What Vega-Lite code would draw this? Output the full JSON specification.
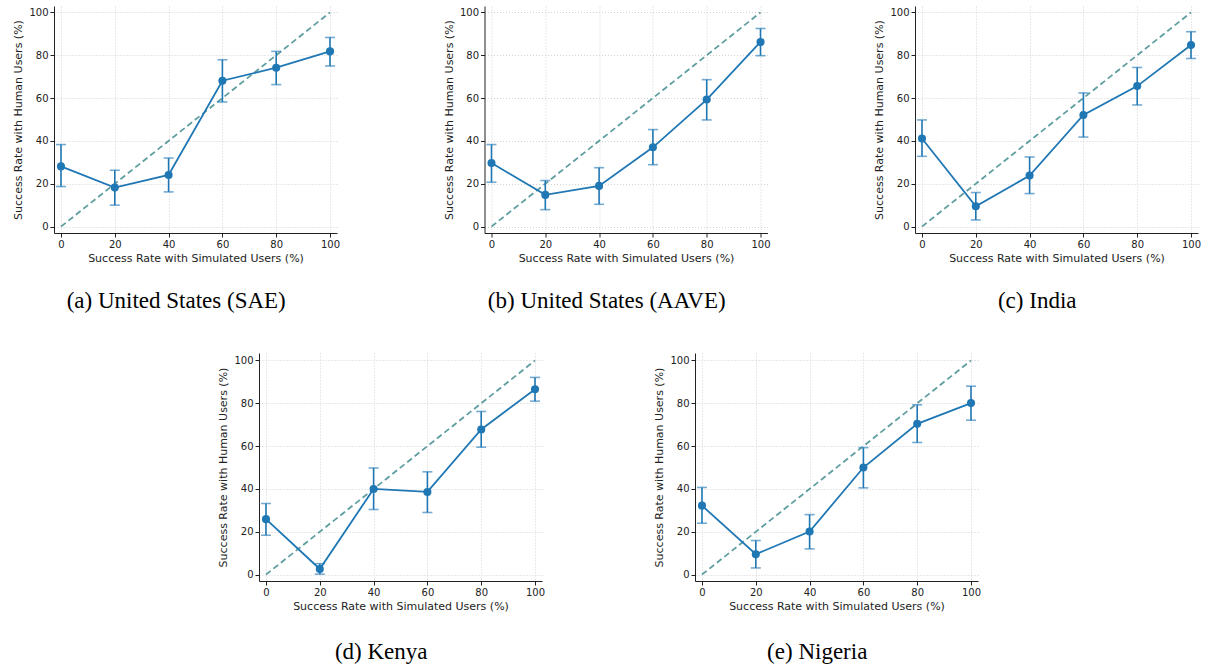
{
  "$schema": "https://vega.github.io/schema/vega-lite/v6.json",
  "padding": {"left": 12, "top": 6, "right": 5, "bottom": 5},
  "background": "white",
  "datasets": {
    "main": [
      {"panel": "a", "sim": 0, "human": 28.1, "lo": 18.7, "hi": 38.3},
      {"panel": "a", "sim": 20, "human": 18.2, "lo": 10.0, "hi": 26.3},
      {"panel": "a", "sim": 40, "human": 24.1, "lo": 16.2, "hi": 32.0},
      {"panel": "a", "sim": 60, "human": 68.1, "lo": 58.2, "hi": 77.9},
      {"panel": "a", "sim": 80, "human": 74.2, "lo": 66.3, "hi": 81.8},
      {"panel": "a", "sim": 100, "human": 81.8, "lo": 75.0, "hi": 88.3},
      {"panel": "b", "sim": 0, "human": 29.7, "lo": 20.7, "hi": 38.3},
      {"panel": "b", "sim": 20, "human": 14.8, "lo": 7.9, "hi": 21.5},
      {"panel": "b", "sim": 40, "human": 19.0, "lo": 10.4, "hi": 27.5},
      {"panel": "b", "sim": 60, "human": 37.0, "lo": 28.9, "hi": 45.3},
      {"panel": "b", "sim": 80, "human": 59.3, "lo": 49.8, "hi": 68.6},
      {"panel": "b", "sim": 100, "human": 86.2, "lo": 79.8, "hi": 92.5},
      {"panel": "c", "sim": 0, "human": 41.1, "lo": 32.8, "hi": 49.8},
      {"panel": "c", "sim": 20, "human": 9.5, "lo": 3.1, "hi": 15.9},
      {"panel": "c", "sim": 40, "human": 23.8, "lo": 15.4, "hi": 32.5},
      {"panel": "c", "sim": 60, "human": 52.1, "lo": 41.8, "hi": 62.4},
      {"panel": "c", "sim": 80, "human": 65.6, "lo": 56.8, "hi": 74.3},
      {"panel": "c", "sim": 100, "human": 84.8, "lo": 78.5, "hi": 91.0},
      {"panel": "d", "sim": 0, "human": 25.9, "lo": 18.4, "hi": 33.2},
      {"panel": "d", "sim": 20, "human": 2.6, "lo": 0.2, "hi": 5.1},
      {"panel": "d", "sim": 40, "human": 40.0, "lo": 30.4, "hi": 49.8},
      {"panel": "d", "sim": 60, "human": 38.6, "lo": 29.0, "hi": 48.0},
      {"panel": "d", "sim": 80, "human": 67.8, "lo": 59.5, "hi": 76.2},
      {"panel": "d", "sim": 100, "human": 86.6, "lo": 81.0, "hi": 92.1},
      {"panel": "e", "sim": 0, "human": 32.2, "lo": 24.0, "hi": 40.7},
      {"panel": "e", "sim": 20, "human": 9.5, "lo": 3.1, "hi": 15.9},
      {"panel": "e", "sim": 40, "human": 20.1, "lo": 12.0, "hi": 28.0},
      {"panel": "e", "sim": 60, "human": 50.0, "lo": 40.5, "hi": 59.3},
      {"panel": "e", "sim": 80, "human": 70.4, "lo": 61.7, "hi": 79.3},
      {"panel": "e", "sim": 100, "human": 80.1, "lo": 72.1, "hi": 88.0}
    ],
    "diag": [
      {"sim": 0, "human": 0},
      {"sim": 100, "human": 100}
    ]
  },
  "config": {
    "view": {"stroke": null},
    "font": "DejaVu Sans",
    "axis": {
      "labelFont": "DejaVu Sans",
      "labelFontSize": 10,
      "labelColor": "#222222",
      "titleFont": "DejaVu Sans",
      "titleFontSize": 11,
      "titleFontWeight": "normal",
      "titleColor": "#222222",
      "domainColor": "#222222",
      "domainWidth": 1,
      "tickColor": "#222222",
      "tickSize": 4,
      "labelPadding": 2,
      "grid": true,
      "gridColor": "#c8c8c8",
      "gridDash": [1, 2],
      "gridWidth": 0.8
    },
    "axisX": {"titlePadding": 3},
    "axisY": {"titlePadding": 5},
    "title": {
      "font": "Liberation Serif",
      "fontSize": 23,
      "fontWeight": "normal",
      "color": "black",
      "orient": "bottom",
      "anchor": "middle",
      "frame": "bounds",
      "offset": 27
    }
  },
  "vconcat": [
    {
      "hconcat": [
        {
          "width": 283, "height": 227,
          "title": "(a) United States (SAE)",
          "layer": [
            {
              "data": {"name": "diag"},
              "mark": {"type": "line", "color": "#5f9ea0", "strokeDash": [6, 3.5], "strokeWidth": 1.8},
              "encoding": {
                "x": {"field": "sim", "type": "quantitative", "scale": {"domain": [-2.6, 102.6], "nice": false, "zero": false}, "axis": {"values": [0, 20, 40, 60, 80, 100]}, "title": "Success Rate with Simulated Users (%)"},
                "y": {"field": "human", "type": "quantitative", "scale": {"domain": [-3, 103], "nice": false, "zero": false}, "axis": {"values": [0, 20, 40, 60, 80, 100]}, "title": "Success Rate with Human Users (%)"}
              }
            },
            {
              "data": {"name": "main"},
              "transform": [{"filter": "datum.panel === 'a'"}],
              "layer": [
                {"mark": {"type": "errorbar", "color": "#1f77b4", "thickness": 1.6, "ticks": {"size": 10, "thickness": 1.6, "color": "#3a88c0"}},
                 "encoding": {"x": {"field": "sim", "type": "quantitative", "title": "Success Rate with Simulated Users (%)"}, "y": {"field": "lo", "type": "quantitative", "title": "Success Rate with Human Users (%)"}, "y2": {"field": "hi"}}},
                {"mark": {"type": "line", "color": "#1f77b4", "strokeWidth": 1.8},
                 "encoding": {"x": {"field": "sim", "type": "quantitative", "title": "Success Rate with Simulated Users (%)"}, "y": {"field": "human", "type": "quantitative", "title": "Success Rate with Human Users (%)"}}},
                {"mark": {"type": "circle", "color": "#1f77b4", "opacity": 1, "size": 65},
                 "encoding": {"x": {"field": "sim", "type": "quantitative", "title": "Success Rate with Simulated Users (%)"}, "y": {"field": "human", "type": "quantitative", "title": "Success Rate with Human Users (%)"}}}
              ]
            }
          ]
        },
        {
          "width": 283, "height": 227,
          "title": "(b) United States (AAVE)",
          "layer": [
            {
              "data": {"name": "diag"},
              "mark": {"type": "line", "color": "#5f9ea0", "strokeDash": [6, 3.5], "strokeWidth": 1.8},
              "encoding": {
                "x": {"field": "sim", "type": "quantitative", "scale": {"domain": [-2.6, 102.6], "nice": false, "zero": false}, "axis": {"values": [0, 20, 40, 60, 80, 100]}, "title": "Success Rate with Simulated Users (%)"},
                "y": {"field": "human", "type": "quantitative", "scale": {"domain": [-3, 103], "nice": false, "zero": false}, "axis": {"values": [0, 20, 40, 60, 80, 100]}, "title": "Success Rate with Human Users (%)"}
              }
            },
            {
              "data": {"name": "main"},
              "transform": [{"filter": "datum.panel === 'b'"}],
              "layer": [
                {"mark": {"type": "errorbar", "color": "#1f77b4", "thickness": 1.6, "ticks": {"size": 10, "thickness": 1.6, "color": "#3a88c0"}},
                 "encoding": {"x": {"field": "sim", "type": "quantitative", "title": "Success Rate with Simulated Users (%)"}, "y": {"field": "lo", "type": "quantitative", "title": "Success Rate with Human Users (%)"}, "y2": {"field": "hi"}}},
                {"mark": {"type": "line", "color": "#1f77b4", "strokeWidth": 1.8},
                 "encoding": {"x": {"field": "sim", "type": "quantitative", "title": "Success Rate with Simulated Users (%)"}, "y": {"field": "human", "type": "quantitative", "title": "Success Rate with Human Users (%)"}}},
                {"mark": {"type": "circle", "color": "#1f77b4", "opacity": 1, "size": 65},
                 "encoding": {"x": {"field": "sim", "type": "quantitative", "title": "Success Rate with Simulated Users (%)"}, "y": {"field": "human", "type": "quantitative", "title": "Success Rate with Human Users (%)"}}}
              ]
            }
          ]
        },
        {
          "width": 283, "height": 227,
          "title": "(c) India",
          "layer": [
            {
              "data": {"name": "diag"},
              "mark": {"type": "line", "color": "#5f9ea0", "strokeDash": [6, 3.5], "strokeWidth": 1.8},
              "encoding": {
                "x": {"field": "sim", "type": "quantitative", "scale": {"domain": [-2.6, 102.6], "nice": false, "zero": false}, "axis": {"values": [0, 20, 40, 60, 80, 100]}, "title": "Success Rate with Simulated Users (%)"},
                "y": {"field": "human", "type": "quantitative", "scale": {"domain": [-3, 103], "nice": false, "zero": false}, "axis": {"values": [0, 20, 40, 60, 80, 100]}, "title": "Success Rate with Human Users (%)"}
              }
            },
            {
              "data": {"name": "main"},
              "transform": [{"filter": "datum.panel === 'c'"}],
              "layer": [
                {"mark": {"type": "errorbar", "color": "#1f77b4", "thickness": 1.6, "ticks": {"size": 10, "thickness": 1.6, "color": "#3a88c0"}},
                 "encoding": {"x": {"field": "sim", "type": "quantitative", "title": "Success Rate with Simulated Users (%)"}, "y": {"field": "lo", "type": "quantitative", "title": "Success Rate with Human Users (%)"}, "y2": {"field": "hi"}}},
                {"mark": {"type": "line", "color": "#1f77b4", "strokeWidth": 1.8},
                 "encoding": {"x": {"field": "sim", "type": "quantitative", "title": "Success Rate with Simulated Users (%)"}, "y": {"field": "human", "type": "quantitative", "title": "Success Rate with Human Users (%)"}}},
                {"mark": {"type": "circle", "color": "#1f77b4", "opacity": 1, "size": 65},
                 "encoding": {"x": {"field": "sim", "type": "quantitative", "title": "Success Rate with Simulated Users (%)"}, "y": {"field": "human", "type": "quantitative", "title": "Success Rate with Human Users (%)"}}}
              ]
            }
          ]
        }
      ],
      "spacing": 102.5
    },
    {
      "hconcat": [
        {
          "width": 55, "height": 10,
          "data": {"values": []},
          "mark": {"type": "point", "opacity": 0},
          "encoding": {}
        },
        {
          "width": 283, "height": 228,
          "title": {"text": "(d) Kenya", "offset": 30},
          "layer": [
            {
              "data": {"name": "diag"},
              "mark": {"type": "line", "color": "#5f9ea0", "strokeDash": [6, 3.5], "strokeWidth": 1.8},
              "encoding": {
                "x": {"field": "sim", "type": "quantitative", "scale": {"domain": [-2.6, 102.6], "nice": false, "zero": false}, "axis": {"values": [0, 20, 40, 60, 80, 100]}, "title": "Success Rate with Simulated Users (%)"},
                "y": {"field": "human", "type": "quantitative", "scale": {"domain": [-3, 103.5], "nice": false, "zero": false}, "axis": {"values": [0, 20, 40, 60, 80, 100]}, "title": "Success Rate with Human Users (%)"}
              }
            },
            {
              "data": {"name": "main"},
              "transform": [{"filter": "datum.panel === 'd'"}],
              "layer": [
                {"mark": {"type": "errorbar", "color": "#1f77b4", "thickness": 1.6, "ticks": {"size": 10, "thickness": 1.6, "color": "#3a88c0"}},
                 "encoding": {"x": {"field": "sim", "type": "quantitative", "title": "Success Rate with Simulated Users (%)"}, "y": {"field": "lo", "type": "quantitative", "title": "Success Rate with Human Users (%)"}, "y2": {"field": "hi"}}},
                {"mark": {"type": "line", "color": "#1f77b4", "strokeWidth": 1.8},
                 "encoding": {"x": {"field": "sim", "type": "quantitative", "title": "Success Rate with Simulated Users (%)"}, "y": {"field": "human", "type": "quantitative", "title": "Success Rate with Human Users (%)"}}},
                {"mark": {"type": "circle", "color": "#1f77b4", "opacity": 1, "size": 65},
                 "encoding": {"x": {"field": "sim", "type": "quantitative", "title": "Success Rate with Simulated Users (%)"}, "y": {"field": "human", "type": "quantitative", "title": "Success Rate with Human Users (%)"}}}
              ]
            }
          ]
        },
        {
          "width": 283, "height": 228,
          "title": {"text": "(e) Nigeria", "offset": 30},
          "layer": [
            {
              "data": {"name": "diag"},
              "mark": {"type": "line", "color": "#5f9ea0", "strokeDash": [6, 3.5], "strokeWidth": 1.8},
              "encoding": {
                "x": {"field": "sim", "type": "quantitative", "scale": {"domain": [-2.6, 102.6], "nice": false, "zero": false}, "axis": {"values": [0, 20, 40, 60, 80, 100]}, "title": "Success Rate with Simulated Users (%)"},
                "y": {"field": "human", "type": "quantitative", "scale": {"domain": [-3, 103.5], "nice": false, "zero": false}, "axis": {"values": [0, 20, 40, 60, 80, 100]}, "title": "Success Rate with Human Users (%)"}
              }
            },
            {
              "data": {"name": "main"},
              "transform": [{"filter": "datum.panel === 'e'"}],
              "layer": [
                {"mark": {"type": "errorbar", "color": "#1f77b4", "thickness": 1.6, "ticks": {"size": 10, "thickness": 1.6, "color": "#3a88c0"}},
                 "encoding": {"x": {"field": "sim", "type": "quantitative", "title": "Success Rate with Simulated Users (%)"}, "y": {"field": "lo", "type": "quantitative", "title": "Success Rate with Human Users (%)"}, "y2": {"field": "hi"}}},
                {"mark": {"type": "line", "color": "#1f77b4", "strokeWidth": 1.8},
                 "encoding": {"x": {"field": "sim", "type": "quantitative", "title": "Success Rate with Simulated Users (%)"}, "y": {"field": "human", "type": "quantitative", "title": "Success Rate with Human Users (%)"}}},
                {"mark": {"type": "circle", "color": "#1f77b4", "opacity": 1, "size": 65},
                 "encoding": {"x": {"field": "sim", "type": "quantitative", "title": "Success Rate with Simulated Users (%)"}, "y": {"field": "human", "type": "quantitative", "title": "Success Rate with Human Users (%)"}}}
              ]
            }
          ]
        }
      ],
      "spacing": 108
    }
  ],
  "spacing": 40,
  "center": false
}
